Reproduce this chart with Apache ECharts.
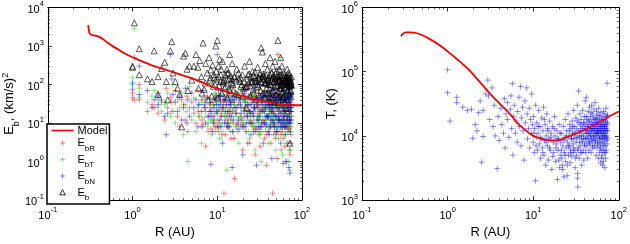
<!DOCTYPE html>
<html><head><meta charset="utf-8">
<script src="https://cdn.jsdelivr.net/npm/echarts@6/dist/echarts.min.js"></script>
<style>html,body{margin:0;padding:0;background:#fff}#c{width:630px;height:244px}</style>
</head><body><div id="c"></div><script>
// ---------- Left panel: observations (R in AU, energies in (km/s)^2) ----------
const obsR = [1.0,1.0,1.05,1.2,1.2,1.5,1.7,1.8,2.0,2.0,
2.2,2.4,2.5,2.6,2.8,2.9,3.0,3.2,3.4,3.6,
3.8,4.0,4.2,4.4,4.5,4.7,5.0,5.3,5.6,5.9,
6.2,6.5,6.8,7.0,7.3,7.6,8.0,8.4,8.8,9.2,
9.6,10,10.3,10.7,11,11.5,12,12.5,13,13.5,
14,14.5,15,15.5,16,17,18,19,20,21,
22,23,24,25,26,27,28,29,30,31,
32,33,34,35,36,37,38,39,40,41,
42,43,44,45,46,47,48,49,50,51,
52,53,54,55,56,57,58,59,60,61,
62,63,64,65,66,67,68,69,70,70,
71,71,72,72,73,73,74,74,75,
6.0,6.6,7.2,7.8,8.2,8.6,9.0,9.4,9.8,10.1,
10.5,10.9,11.3,11.8,12.2,12.8,13.2,13.8,14.2,14.8,
15.3,16.5,17.5,18.5,19.5,20.5,21.5,22.5,23.5,24.5,
25.5,26.5,27.5,28.5,29.5,30.5,31.5,32.5,33.5,34.5,
35.5,36.5,37.5,38.5,39.5,40.5,41.5,42.5,43.5,44.5,
45.5,46.5,47.5,48.5,49.5,50.5,51.5,52.5,53.5,54.5,
55.5,56.5,57.5,58.5,59.5,60.5,61.5,62.5,63.5,64.5,
65.5,66.5,67.5,68.5,69.5,70.5,71.5,72.5,73.5,74.5,75,
8.3,9.1,9.7,10.4,11.1,11.7,12.4,13.1,13.7,14.4,
15.1,15.8,16.8,17.8,18.8,19.8,20.8,21.8,22.8,23.8,
24.8,25.8,26.8,27.8,28.8,29.8,30.8,31.8,32.8,33.8,
34.8,35.8,36.8,37.8,38.8,39.8,40.8,41.8,42.8,43.8,
44.8,45.8,46.8,47.8,48.8,49.8,50.8,51.8,52.8,53.8,
54.8,55.8,56.8,57.8,58.8,59.8,60.8,61.8,62.8,63.8,
64.8,65.8,66.8,67.8,68.8,69.8,70.8,71.8,72.8,73.8];
const valEbR = [45,60,40,100,40,20,30,25,60,18,
35,12,80,25,45,35,20,70,15,8,
40,30,12,50,6,25,35,18,10,70,
15,40,9,25,2.5,50,20,7,35,12,
60,18,8,45,15,25,0.15,5,30,12,
60,4,20,35,0.36,9,45,14,2,25,
6,80,3,18,40,10,1.5,30,7,60,
2.5,22,12,45,4,25,0.8,15,50,8,
30,3,18,0.15,70,10,35,5,25,1.2,
600,12,45,6,30,2,80,15,4,50,
20,8,1,35,12,60,3,25,7,40,
2,18,1.5,90,10,30,5,50,15,
20,12,40,6,25,15,30,8,50,20,
10,35,5,25,40,15,8,30,18,50,
10,25,6,35,12,45,8,20,30,10,
55,15,25,8,40,18,6,35,10,25,
60,12,30,5,45,15,25,8,40,20,
10,50,6,30,15,40,8,25,60,12,
35,5,45,20,10,30,50,8,25,40,
15,60,10,30,20,45,12,35,8,25,55,
30,10,45,6,20,35,12,55,8,25,
40,4,18,30,9,60,15,25,3,45,
12,35,20,7,50,15,28,5,40,10,
22,65,8,30,14,45,6,25,35,12,
50,9,20,40,4,30,15,55,10,25,
8,35,18,45,6,28,12,40,2.5,20,
55,10,30,15,45,7,25,38,12,20];
const valEbT = [150,100,2800,45,80,35,50,70,25,40,
20,30,35,60,15,20,100,10,40,25,
60,5,30,20,1.0,90,12,45,6,25,
30,3,45,14,20,8,100,30,12,55,
6,35,22,4,60,10,18,40,0.6,8,
25,12,50,6,30,15,3,70,9,35,
18,12,4,55,8,25,2,12,45,5,
20,1.0,30,10,70,6,15,40,3,22,
60,8,35,12,5,25,80,2,15,40,
20,4,60,12,500,25,8,1.5,35,18,
5,45,10,70,3,25,8,120,1.0,15,
50,6,0.6,30,2,20,60,10,30,
15,35,20,10,45,5,25,18,30,12,
40,8,20,30,15,50,10,25,6,40,
20,8,30,15,45,10,25,40,6,15,
30,8,50,20,35,10,25,15,45,6,
30,18,40,12,25,8,50,15,30,10,
40,20,8,45,25,12,35,8,40,15,
25,50,12,30,8,45,20,12,35,10,
55,25,6,40,15,30,50,8,25,40,15,
12,40,8,30,55,6,25,15,45,10,
20,35,8,50,25,12,40,6,30,18,
45,10,25,60,8,35,15,22,6,40,
12,30,50,8,25,15,40,10,22,55,
15,30,8,25,45,12,35,6,28,50,
20,8,40,12,30,55,10,25,18,35,
8,45,15,30,6,40,20,10,50,25];
const valEbN = [75,110,500,300,55,70,25,40,50,30,
40,15,5,18,600,140,55,35,20,50,
12,25,80,10,40,15,60,25,40,8,
120,20,70,30,10,45,15,0.85,6,25,
40,600,70,12,30,3,50,20,8,45,
15,30,0.7,12,40,25,7,18,1.5,60,
10,30,20,5,80,15,40,0.8,25,12,
100,8,50,3,20,35,9,60,15,5,
40,25,1.2,70,18,8,45,30,6,60,
250,15,25,100,3,40,12,30,0.9,70,
8,20,5,40,1.0,15,50,10,30,0.7,
20,80,0.5,12,40,6,25,3,90,
30,8,25,15,35,20,10,45,20,8,
25,50,15,40,10,30,20,8,35,15,
50,18,10,40,25,8,35,15,50,20,
10,40,25,6,30,45,15,8,35,20,
45,10,25,50,15,30,20,8,45,25,
12,35,15,50,8,25,40,12,20,50,
10,30,45,8,25,15,40,12,60,20,
35,8,45,25,60,15,35,50,12,30,20,
20,15,30,50,8,25,40,10,20,35,
6,25,45,12,30,8,20,50,15,10,
30,18,6,25,40,12,8,45,20,30,
55,10,25,15,40,6,30,45,12,20,
25,50,10,35,15,40,6,25,50,12,
35,18,8,30,45,10,25,15,40,8,
20,30,50,12,25,45,10,30,20,60];
const valEb = [300,280,4000,180,850,140,120,750,160,55,
260,380,120,40,750,1300,200,120,80,55,
8,550,650,250,70,300,130,300,600,280,
420,160,1200,75,350,200,500,240,320,150,
1000,1400,300,450,180,400,130,90,250,200,
600,110,350,70,160,250,140,90,50,300,
25,180,400,120,220,60,150,85,280,140,
200,900,700,170,110,350,60,250,130,75,
500,45,200,300,160,90,400,55,220,120,
1400,35,250,180,500,80,300,60,45,200,
130,90,25,160,40,250,70,200,55,110,
90,180,3,150,65,100,120,70,160,
80,60,110,40,130,50,90,100,140,45,
95,120,60,110,80,130,45,75,70,140,
100,60,55,120,100,80,85,90,110,50,
110,75,120,40,130,90,50,70,110,60,
160,45,110,80,100,60,110,35,130,65,
70,120,35,140,55,90,95,50,130,85,
80,95,110,65,50,100,120,35,130,80,
110,100,70,100,110,95,110,100,50,100,95,
150,180,220,160,250,120,180,200,140,170,
110,160,130,200,150,180,120,90,140,190,
160,120,170,210,130,100,150,180,120,160,
190,140,110,170,130,150,120,180,100,200,
140,170,120,150,190,110,160,130,170,140,
120,160,100,180,130,150,170,110,140,120,
150,170,130,110,160,140,120,150,130,110];
// Left panel model curve
const modelR = [0.30,0.305,0.31,0.32,0.35,0.4,0.45,0.5,0.6,0.7,0.8,1.0,1.3,1.6,2,2.5,3,4,5,6,8,10,13,16,20,25,30,40,50,60,70,100];
const modelE = [3500,2600,2200,2000,1900,1750,1500,1250,950,780,650,510,400,330,280,240,210,170,145,125,95,78,65,57,50,44,40,35,32,30,29,29];

// ---------- Right panel: temperatures (K) ----------
const tempObs = [[1.0,107e3],[1.0,47e3],[1.07,17e3],[1.28,40e3],[1.28,33e3],[1.5,28e3],[1.7,25e3],[1.9,26e3],[1.97,9.2e3],[2.1,15e3],[2.2,12e3],[2.3,23e3],[2.4,35e3],[2.5,3.9e3],[2.6,25e3],[2.6,9.8e3],[2.8,45e3],[2.95,74e3],[3.0,42e3],[3.1,18e3],[3.3,56e3],[3.4,14e3],[3.5,30e3],[3.6,10e3],[3.8,3.1e3],[3.9,20e3],[4.0,8.5e3],[4.2,27e3],[4.3,15e3],[4.5,11e3],[4.6,38e3],[4.7,6.5e3],[4.8,22e3],[5.0,33e3],[5.0,18e3],[5.2,9.5e3],[5.4,26e3],[5.5,42e3],[5.6,13e3],[5.7,65e3],[5.8,5e3],[5.9,20e3],[6.0,30e3],[6.2,11e3],[6.3,17e3],[6.5,8e3],[6.6,24e3],[6.8,40e3],[6.9,14e3],[7.1,59e3],[7.2,7e3],[7.3,19e3],[7.5,28e3],[7.6,12e3],[7.8,4.2e3],[8.0,35e3],[8.1,16e3],[8.4,56e3],[8.5,22e3],[8.6,9e3],[8.8,13e3],[9.0,27e3],[9.1,6.5e3],[9.3,18e3],[9.5,11e3],[9.6,45e3],[9.8,15e3],
[10.0,8e3],[10.1,20e3],[10.3,5.5e3],[10.4,13e3],[10.6,2.0e3],[10.7,30e3],[10.9,9.5e3],[11.0,16e3],[11.2,6e3],[11.4,11e3],[11.6,25e3],[11.8,7.5e3],[12.0,14e3],[12.2,4.5e3],[12.4,9e3],[12.6,19e3],[12.8,6.5e3],[13.0,12e3],[13.2,28e3],[13.4,5e3],[13.6,8.5e3],[13.8,15e3],[14.0,3.5e3],[14.2,10e3],[14.4,22e3],[14.6,7e3],[14.8,13e3],[15.0,4.2e3],[15.3,9e3],[15.6,17e3],[15.9,6e3],[16.2,11e3],[16.5,3e3],[16.8,14e3],[17.1,8e3],[17.4,5.5e3],[17.7,20e3],[18.0,10e3],[18.3,4e3],[18.6,7.5e3],[18.9,12e3],[19.2,2.1e3],[19.5,6e3],[19.8,9e3],[20.1,15e3],[20.4,3.2e3],[20.7,5e3],[21.0,8e3],[21.3,11e3],[21.6,4.5e3],[21.9,3.5e3],[22.2,7e3],[22.5,14e3],[22.8,2.3e3],[23.1,5.5e3],[23.4,9.5e3],[23.7,18e3],[24.0,4e3],[24.3,6.5e3],[24.6,12e3],[24.9,2.4e3],[25.2,8e3],[25.5,22e3],[25.8,5e3],[26.1,10e3],[26.4,7e3],[26.7,15e3],[27.0,3.8e3],[27.3,6e3],[27.6,13e3],[27.9,9e3],[28.2,4.8e3],[28.5,17e3],[28.8,11e3],[29.1,7.5e3],[29.4,5.5e3],[29.7,25e3],[30.0,9e3],[30.3,14e3],[30.6,6e3],[30.9,3.2e3],[31.2,11e3],[31.5,19e3],[31.8,8e3],[32.1,5e3],[32.4,13e3],[32.7,30e3],[33.0,2.6e3],[33.0,2.2e3],[33.2,1.6e3],[33.3,9.5e3],[33.6,6.5e3],[33.9,50e3],[34.2,16e3],[34.5,4.5e3],[34.8,10e3],[35.1,22e3],[35.4,7e3],[35.7,12e3],[36.0,5.5e3],[36.3,18e3],[36.6,9e3],[36.9,3.5e3],[37.2,14e3],[37.5,8e3],[37.8,25e3],[38.1,11e3],[38.4,6e3],[38.7,16e3],[39.0,4.2e3],[39.3,10e3],[39.6,20e3],[39.9,7.5e3],[40.2,13e3],[40.5,35e3],[40.8,9e3],[41.1,5.5e3],[41.4,15e3],[41.7,40e3],[42.0,11e3],[42.3,7e3],[42.6,18e3],[42.9,12e3],[43.2,4.5e3],[43.5,9.5e3],[43.8,24e3],[44.1,14e3],[44.4,8e3],[44.7,6e3],[45.0,17e3],[45.3,11e3],[45.6,28e3],[45.9,13e3],[46.2,7.5e3],[46.5,10e3],[46.8,20e3],[47.1,15e3],[47.4,5.5e3],[47.7,12e3],[48.0,9e3],[48.3,30e3],[48.6,16e3],[48.9,8.5e3],[49.2,13e3],[49.5,22e3],[49.8,6.5e3],[50.1,11e3],[50.4,18e3],[50.7,14e3],[51.0,9e3],[51.3,26e3],[51.6,12e3],[51.9,7e3],[52.2,16e3],[52.5,10e3],[52.8,33e3],[53.1,13e3],[53.4,8e3],[53.7,19e3],[54.0,11e3],[54.3,5e3],[54.6,15e3],[54.9,24e3],[55.2,9.5e3],[55.5,13e3],[55.8,6.5e3],[56.1,17e3],[56.4,11e3],[56.7,21e3],[57.0,8e3],[57.3,14e3],[57.6,4.5e3],[57.9,12e3],[58.2,27e3],[58.5,10e3],[58.8,16e3],[59.1,7e3],[59.4,13e3],[59.7,5.5e3],[60.0,19e3],[60.3,9e3],[60.6,11e3],[60.9,3.8e3],[61.2,15e3],[61.5,8e3],[61.8,23e3],[62.1,12e3],[62.4,6e3],[62.7,14e3],[63.0,4.5e3],[63.3,10e3],[63.6,17e3],[63.9,7.5e3],[64.2,13e3],[64.5,3.5e3],[64.8,9e3],[65.1,20e3],[65.4,11e3],[65.7,6e3],[66.0,15e3],[66.3,4e3],[66.6,12e3],[66.9,8e3],[67.2,18e3],[67.5,10e3],[67.8,5.5e3],[68.1,14e3],[68.4,3.2e3],[68.7,9e3],[69.0,22e3],[69.3,12e3],[69.6,7e3],[69.9,16e3],[70.2,4.5e3],[70.5,11e3],[70.8,27e3],[71.1,8.5e3],[71.4,13e3],[71.7,6e3],[72.0,19e3],[72.3,10e3],[72.6,15e3],[72.9,66e3],[73.2,7.5e3],[73.5,12e3],[73.8,21e3],[74.1,9e3],
[10.2,11e3],[10.8,7e3],[11.5,14e3],[12.1,9.5e3],[12.9,5.5e3],[13.5,18e3],[14.1,8e3],[14.9,12e3],[15.5,6.5e3],[16.1,9.5e3],[16.9,4.8e3],[17.6,13e3],[18.4,6.5e3],[19.1,9e3],[19.9,4.2e3],[20.6,11e3],[21.4,6e3],[22.1,3e3],[22.9,8.5e3],[23.6,5e3],[24.4,10e3],[25.1,3.5e3],[25.9,7e3],[26.6,12e3],[27.4,5.5e3],[28.1,9e3],[28.9,14e3],[29.6,6.5e3],[30.4,11e3],[31.1,4.5e3],[31.9,9.5e3],[32.6,17e3],[33.4,6e3],[34.1,12e3],[34.9,8e3],[35.6,15e3],[36.4,10e3],[37.1,5.5e3],[37.9,13e3],[38.6,9e3],[39.4,16e3],[40.1,7e3],[40.9,12e3],[41.6,20e3],[42.4,9e3],[43.1,14e3],[43.9,11e3],[44.6,17e3],[45.4,8e3],[46.1,13e3],[46.9,10e3],[47.6,23e3],[48.4,12e3],[49.1,7e3],[49.9,15e3],[50.6,10e3],[51.4,19e3],[52.1,13e3],[52.9,8.5e3],[53.6,15e3],[54.4,11e3],[55.1,18e3],[55.9,12e3],[56.6,7.5e3],[57.4,16e3],[58.1,11e3],[58.9,21e3],[59.6,9e3],[60.4,14e3],[61.1,6.5e3],[61.9,12e3],[62.6,18e3],[63.4,9.5e3],[64.1,5e3],[64.9,15e3],[65.6,11e3],[66.4,24e3],[67.1,7e3],[67.9,13e3],[68.6,10e3],[69.4,17e3],[70.1,5.5e3],[70.9,14e3],[71.6,9.5e3],[72.4,20e3],[73.1,12e3],[73.9,16e3]];
const modelTR = [0.286,0.30,0.326,0.36,0.46,0.6,0.8,1.0,1.3,1.74,2.2,2.95,3.7,4.6,5.5,6.5,8,10,12,14.5,17,20,25,32,40,50,60,72,85,100];
const modelT = [3.56e5,3.9e5,4.1e5,4.1e5,3.9e5,3.3e5,2.6e5,2.07e5,1.55e5,1.1e5,7.8e4,5.0e4,3.6e4,2.7e4,2.1e4,1.6e4,1.25e4,1.0e4,9.2e3,8.6e3,8.5e3,8.6e3,9.6e3,1.1e4,1.25e4,1.45e4,1.65e4,1.9e4,2.15e4,2.4e4];

// ---------- Labels ----------
const legendNames = ['Model','EbR','EbT','EbN','Eb'];
const legendRich = {'Model':'{t|Model}','EbR':'{t|E}{sub|bR}','EbT':'{t|E}{sub|bT}','EbN':'{t|E}{sub|bN}','Eb':'{t|E}{sub|b}'};

const FONT = '"Liberation Sans", Arial, Helvetica, sans-serif';
const plus = 'path://M0,5L10,5M5,0L5,10';
const zip = (xs, ys) => xs.map((x, i) => [x, ys[i]]);
// minor tick positions (2..9 within each decade), expressed in decades for a linear overlay axis
const minorDecades = (lo, hi) => { const out = []; for (let e = lo; e < hi; e++) for (let k = 2; k <= 9; k++) out.push(e + Math.log10(k)); return out; };

const labRich = {
  b: {fontSize: 11, fontFamily: FONT, color: '#000', verticalAlign: 'bottom'},
  s: {fontSize: 7.5, fontFamily: FONT, color: '#000', verticalAlign: 'bottom', padding: [0, 0, 7, 0]}
};
const powLabel = v => '{b|10}{s|' + Math.round(Math.log10(v)) + '}';
const blackLine = {show: true, onZero: false, lineStyle: {color: '#000', width: 1}};

function xAx(grid, pos, showLab) {
  return {
    type: 'log', logBase: 10, min: 0.1, max: 100, gridIndex: grid, position: pos,
    axisLine: blackLine,
    axisTick: {show: true, inside: true, length: 4, lineStyle: {color: '#000', width: 0.8}},
    splitLine: {show: false},
    axisLabel: {show: showLab, formatter: powLabel, rich: labRich, margin: 6},
    name: showLab ? 'R (AU)' : '', nameLocation: 'middle', nameGap: 22,
    nameTextStyle: {fontSize: 13, fontFamily: FONT, color: '#000'}
  };
}
function xMinor(grid, pos) {
  return {
    type: 'value', min: -1, max: 2, gridIndex: grid, position: pos,
    axisLine: {show: false, onZero: false}, splitLine: {show: false}, axisLabel: {show: false},
    axisTick: {show: true, inside: true, length: 2, customValues: minorDecades(-1, 2), lineStyle: {color: '#000', width: 0.6}}
  };
}
function yAx(grid, pos, showLab, mn, mx, name, nameGap) {
  return {
    type: 'log', logBase: 10, min: mn, max: mx, gridIndex: grid, position: pos,
    axisLine: blackLine,
    axisTick: {show: true, inside: true, length: 4, lineStyle: {color: '#000', width: 0.8}},
    splitLine: {show: false},
    axisLabel: {show: showLab, formatter: powLabel, rich: labRich, margin: 4},
    name: showLab ? name : '', nameLocation: 'middle', nameGap: nameGap, nameRotate: 90,
    nameTextStyle: {fontSize: 13, fontFamily: FONT, color: '#000', rich: {
      n: {fontSize: 13, fontFamily: FONT, color: '#000'},
      sub: {fontSize: 9, fontFamily: FONT, color: '#000', verticalAlign: 'bottom', padding: [0,0,-3,0]},
      sup: {fontSize: 9, fontFamily: FONT, color: '#000', verticalAlign: 'bottom', padding: [0,0,8,0]}
    }}
  };
}
function yMinor(grid, pos, lo, hi) {
  return {
    type: 'value', min: lo, max: hi, gridIndex: grid, position: pos,
    axisLine: {show: false, onZero: false}, splitLine: {show: false}, axisLabel: {show: false},
    axisTick: {show: true, inside: true, length: 2, customValues: minorDecades(lo, hi), lineStyle: {color: '#000', width: 0.6}}
  };
}
const plusLegend = 'path://M0,0M24,10M9.5,5L14.5,5M12,2.5L12,7.5';
const legendStroke = c => ({color: 'rgba(0,0,0,0)', borderColor: c, borderWidth: 1});

const chart = echarts.init(document.getElementById('c'), null, {renderer: 'canvas'});
chart.setOption({
  animation: false,
  backgroundColor: '#fff',
  grid: [
    {left: 44, top: 7, width: 258, height: 204},
    {left: 362, top: 7, width: 261, height: 203}
  ],
  xAxis: [xAx(0, 'bottom', true), xAx(0, 'top', false), xAx(1, 'bottom', true), xAx(1, 'top', false),
          xMinor(0, 'bottom'), xMinor(0, 'top'), xMinor(1, 'bottom'), xMinor(1, 'top')],
  yAxis: [
    yAx(0, 'left', true, 0.1, 10000, '{n|E}{sub|b}{n|, (km/s)}{sup|2}', 24),
    yAx(0, 'right', false, 0.1, 10000, '', 0),
    yAx(1, 'left', true, 1000, 1000000, '{n|T, (K)}', 22),
    yAx(1, 'right', false, 1000, 1000000, '', 0),
    yMinor(0, 'left', -1, 4), yMinor(0, 'right', -1, 4),
    yMinor(1, 'left', 3, 6), yMinor(1, 'right', 3, 6)
  ],
  legend: {
    data: [
      {name: 'Model', icon: 'path://M0,0M24,10M1,4.2L23,4.2L23,5.8L1,5.8Z', itemStyle: {color: '#ff0000', borderWidth: 0}},
      {name: 'EbR', icon: plusLegend, itemStyle: legendStroke('rgba(255,0,0,0.6)')},
      {name: 'EbT', icon: plusLegend, itemStyle: legendStroke('rgba(0,210,0,0.6)')},
      {name: 'EbN', icon: plusLegend, itemStyle: legendStroke('rgba(0,0,255,0.6)')},
      {name: 'Eb', icon: 'path://M0,0M24,10M12,2.2L14.8,7.4L9.2,7.4Z', itemStyle: legendStroke('#000')}
    ],
    orient: 'vertical', left: 47, top: 124,
    backgroundColor: '#fff', borderColor: '#000', borderWidth: 1.5, borderRadius: 0,
    padding: [1, 2, 2, 3], itemGap: 1.5, itemWidth: 24, itemHeight: 10,
    formatter: n => legendRich[n],
    textStyle: {padding: [0, 0, 0, -2], rich: {
      t: {fontSize: 11, fontFamily: FONT, color: '#000'},
      sub: {fontSize: 8, fontFamily: FONT, color: '#000', verticalAlign: 'bottom', padding: [0,0,-4,0]}
    }}
  },
  series: [
    {name: 'EbR', type: 'scatter', xAxisIndex: 0, yAxisIndex: 0, data: zip(obsR, valEbR), symbol: plus, symbolSize: 6,
      itemStyle: {color: 'rgba(0,0,0,0)', borderColor: 'rgba(255,0,0,0.55)', borderWidth: 1}},
    {name: 'EbT', type: 'scatter', xAxisIndex: 0, yAxisIndex: 0, data: zip(obsR, valEbT), symbol: plus, symbolSize: 6,
      itemStyle: {color: 'rgba(0,0,0,0)', borderColor: 'rgba(0,210,0,0.55)', borderWidth: 1}},
    {name: 'EbN', type: 'scatter', xAxisIndex: 0, yAxisIndex: 0, data: zip(obsR, valEbN), symbol: plus, symbolSize: 6,
      itemStyle: {color: 'rgba(0,0,0,0)', borderColor: 'rgba(0,0,255,0.55)', borderWidth: 1}},
    {name: 'Eb', type: 'scatter', xAxisIndex: 0, yAxisIndex: 0, data: zip(obsR, valEb), symbol: 'triangle', symbolSize: 6,
      itemStyle: {color: 'rgba(0,0,0,0)', borderColor: '#000', borderWidth: 0.8}},
    {name: 'Model', type: 'line', xAxisIndex: 0, yAxisIndex: 0, data: zip(modelR, modelE), symbol: 'none', smooth: 0.3, z: 5,
      lineStyle: {color: '#ff0000', width: 1.8}, itemStyle: {color: '#ff0000', borderColor: '#ff0000'}},
    {name: 'T obs', type: 'scatter', xAxisIndex: 2, yAxisIndex: 2, data: tempObs, symbol: plus, symbolSize: 6,
      itemStyle: {color: 'rgba(0,0,0,0)', borderColor: 'rgba(0,0,255,0.55)', borderWidth: 1}},
    {name: 'T model', type: 'line', xAxisIndex: 2, yAxisIndex: 2, data: zip(modelTR, modelT), symbol: 'none', smooth: 0.3, z: 5,
      lineStyle: {color: '#ff0000', width: 1.8}}
  ]
});
</script></body></html>
